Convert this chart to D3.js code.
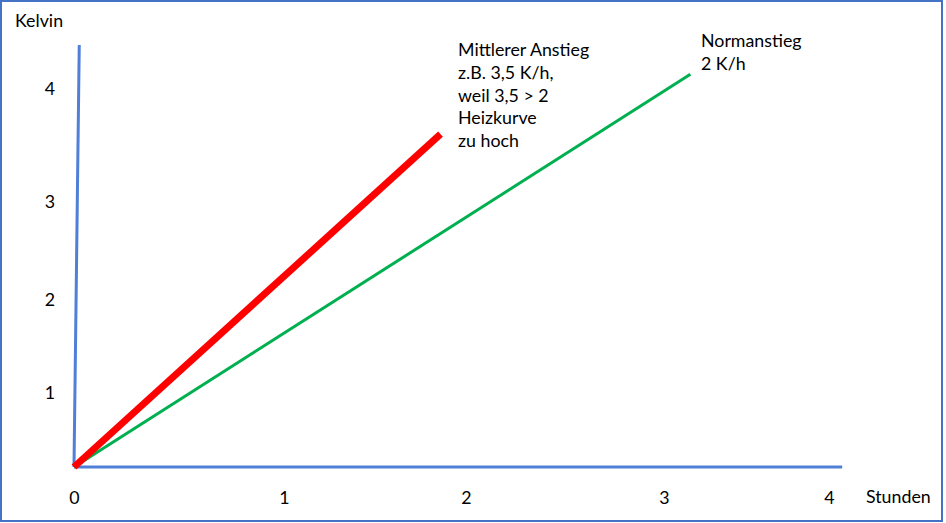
<!DOCTYPE html>
<html>
<head>
<meta charset="utf-8">
<script src="https://cdn.jsdelivr.net/npm/d3@7"></script>
<style>
  html, body { margin: 0; padding: 0; background: #fff; }
  svg { display: block; font-family: Lato, "Open Sans", sans-serif; }
</style>
</head>
<body>
<div id="chart"></div>
<script>
const width = 946
const height = 523
const fontSize = 17.8

// hand drawn sketch: ticks are not evenly spaced, so the scales are piecewise
const xTicks = [0, 1, 2, 3, 4]
const xTickPx = [74, 284, 466, 664, 829]
const yTicks = [1, 2, 3, 4]
const yTickValues = [0, 1, 2, 3, 4]
const yTickPx = [467, 393, 300, 202, 89]

// axis lines [x, y] in data units
const xAxisLine = [[0, 0], [4.08, 0]]
const yAxisLine = [[0, 0], [0.025, 4.39]]

// series: Stunden -> Kelvin
const redLine = [[0, 0], [1.86, 3.6]]
const greenLine = [[0, 0], [3.16, 4.13]]

const redLabel = ['Mittlerer Anstieg', 'z.B. 3,5 K/h,', 'weil 3,5 > 2', 'Heizkurve', 'zu hoch']
const greenLabel = ['Normanstieg', '2 K/h']

let x = d3.scaleLinear().domain(xTicks).range(xTickPx)
let y = d3.scaleLinear().domain(yTickValues).range(yTickPx)

const svg = d3.select('#chart').append('svg')
  .attr('width', width)
  .attr('height', height)

// frame
svg.append('rect')
  .attr('x', 1).attr('y', 1)
  .attr('width', 941).attr('height', 520)
  .attr('fill', 'none')
  .attr('stroke', '#4472c4')
  .attr('stroke-width', 2)

const line = d3.line().x(d => x(d[0])).y(d => y(d[1]))

svg.append('path')
  .attr('d', line(xAxisLine))
  .attr('stroke', '#4f7fd6')
  .attr('stroke-width', 3)
  .attr('fill', 'none')

svg.append('path')
  .attr('d', line(yAxisLine))
  .attr('stroke', '#4f7fd6')
  .attr('stroke-width', 3)
  .attr('fill', 'none')

svg.append('path')
  .attr('d', line(greenLine))
  .attr('stroke', '#00b050')
  .attr('stroke-width', 3)
  .attr('fill', 'none')

svg.append('path')
  .attr('d', line(redLine))
  .attr('stroke', '#ff0000')
  .attr('stroke-width', 7)
  .attr('stroke-linecap', 'butt')
  .attr('fill', 'none')

// tick labels
let xAxis = d3.axisBottom(x).tickValues(xTicks).tickFormat(d3.format('d')).tickSize(0).tickPadding(24)
let yAxis = d3.axisLeft(y).tickValues(yTicks).tickFormat(d3.format('d')).tickSize(0).tickPadding(0)

const gx = svg.append('g')
  .attr('transform', 'translate(0,' + y(0) + ')')
  .call(xAxis)
gx.select('.domain').remove()

const gy = svg.append('g')
  .attr('transform', 'translate(55,0)')
  .call(yAxis)
gy.select('.domain').remove()

svg.selectAll('.tick text')
  .attr('font-family', 'Lato, "Open Sans", sans-serif')
  .attr('font-size', fontSize)
  .attr('fill', '#000')

svg.append('text')
  .attr('x', 15).attr('y', 27)
  .attr('font-size', fontSize)
  .text('Kelvin')

svg.append('text')
  .attr('x', 866).attr('y', 503)
  .attr('font-size', fontSize)
  .text('Stunden')

svg.append('text')
  .attr('x', 458).attr('y', 56)
  .attr('font-size', fontSize)
  .selectAll('tspan')
  .data(redLabel)
  .enter().append('tspan')
  .attr('x', 458)
  .attr('dy', (d, i) => i === 0 ? 0 : 22.8)
  .text(d => d)

svg.append('text')
  .attr('x', 701).attr('y', 47)
  .attr('font-size', fontSize)
  .selectAll('tspan')
  .data(greenLabel)
  .enter().append('tspan')
  .attr('x', 701)
  .attr('dy', (d, i) => i === 0 ? 0 : 22.5)
  .text(d => d)
</script>
</body>
</html>
